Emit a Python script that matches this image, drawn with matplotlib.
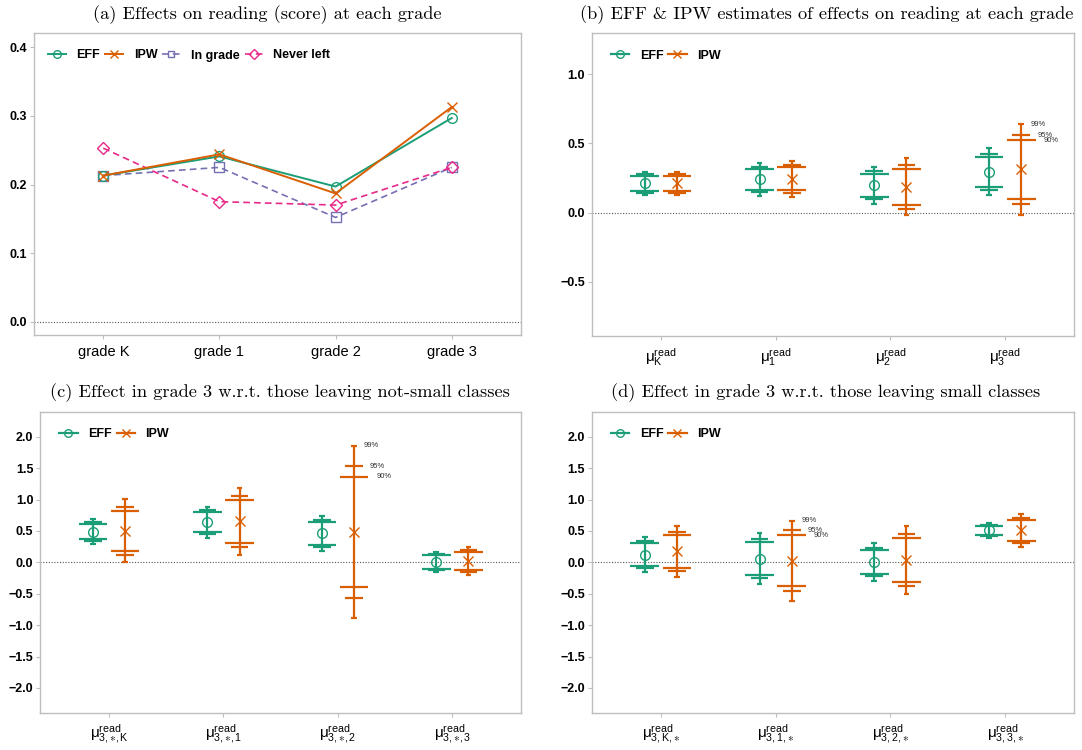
import matplotlib
matplotlib.use("Agg")
import matplotlib.pyplot as plt
from matplotlib.lines import Line2D

plt.rcParams['font.family'] = ['Liberation Sans', 'DejaVu Sans']
plt.rcParams['mathtext.fontset'] = 'custom'
plt.rcParams['mathtext.rm'] = 'Liberation Sans'
plt.rcParams['mathtext.it'] = 'Liberation Sans:italic'
plt.rcParams['mathtext.bf'] = 'Liberation Sans:bold'

# panel (a)
grades = ["grade K", "grade 1", "grade 2", "grade 3"]
a_eff = [0.213, 0.241, 0.197, 0.297]
a_ipw = [0.213, 0.244, 0.187, 0.313]
a_ingrade = [0.213, 0.225, 0.152, 0.225]
a_neverleft = [0.253, 0.175, 0.170, 0.225]

# panel (b)
b_labels = [r'$\mathrm{\mu^{read}_{K}}$', r'$\mathrm{\mu^{read}_{1}}$',
            r'$\mathrm{\mu^{read}_{2}}$', r'$\mathrm{\mu^{read}_{3}}$']
b_eff = [0.212, 0.241, 0.197, 0.296]
b_eff_hw90 = [0.056, 0.075, 0.085, 0.109]
b_eff_hw95 = [0.067, 0.090, 0.101, 0.131]
b_eff_hw99 = [0.085, 0.117, 0.132, 0.170]
b_ipw = [0.212, 0.244, 0.187, 0.312]
b_ipw_hw90 = [0.056, 0.083, 0.131, 0.212]
b_ipw_hw95 = [0.067, 0.099, 0.158, 0.248]
b_ipw_hw99 = [0.085, 0.130, 0.207, 0.328]

# panel (c)
c_labels = [r'$\mathrm{\mu^{read}_{3,∗,K}}$', r'$\mathrm{\mu^{read}_{3,∗,1}}$',
            r'$\mathrm{\mu^{read}_{3,∗,2}}$', r'$\mathrm{\mu^{read}_{3,∗,3}}$']
c_eff = [0.489, 0.639, 0.460, 0.005]
c_eff_hw90 = [0.122, 0.162, 0.179, 0.112]
c_eff_hw95 = [0.146, 0.194, 0.214, 0.133]
c_eff_hw99 = [0.196, 0.245, 0.279, 0.165]
c_ipw = [0.500, 0.653, 0.483, 0.024]
c_ipw_hw90 = [0.319, 0.340, 0.877, 0.146]
c_ipw_hw95 = [0.378, 0.405, 1.045, 0.175]
c_ipw_hw99 = [0.502, 0.532, 1.377, 0.226]

# panel (d)
d_labels = [r'$\mathrm{\mu^{read}_{3,K,∗}}$', r'$\mathrm{\mu^{read}_{3,1,∗}}$',
            r'$\mathrm{\mu^{read}_{3,2,∗}}$', r'$\mathrm{\mu^{read}_{3,3,∗}}$']
d_eff = [0.125, 0.061, 0.008, 0.509]
d_eff_hw90 = [0.179, 0.258, 0.188, 0.077]
d_eff_hw95 = [0.213, 0.307, 0.224, 0.092]
d_eff_hw99 = [0.285, 0.406, 0.300, 0.122]
d_ipw = [0.173, 0.026, 0.040, 0.508]
d_ipw_hw90 = [0.266, 0.407, 0.350, 0.170]
d_ipw_hw95 = [0.316, 0.489, 0.417, 0.203]
d_ipw_hw99 = [0.412, 0.640, 0.540, 0.264]

GREEN = '#1B9E77'
ORANGE = '#D95F02'
PURPLE = '#7570B3'
PINK = '#E7298A'
FRAME = '#BEBEBE'

W, H = 1082, 750
fig = plt.figure(figsize=(W / 100, H / 100), dpi=100)


def add_ax(l, t, r, b):
    ax = fig.add_axes([l / W, 1 - b / H, (r - l) / W, (b - t) / H])
    ax.px = (r - l, b - t)
    for s in ax.spines.values():
        s.set_color(FRAME)
        s.set_linewidth(1.0)
    ax.tick_params(axis='both', color=FRAME, length=3, width=0.8)
    ax.tick_params(axis='y', pad=2)
    ax.set_xlim(0.4, 4.6)
    ax.axhline(0, color='#555555', lw=0.8, ls=(0, (1, 1.5)), zorder=1)
    return ax


def bold_yticks(ax, ticks, fmt):
    ax.set_yticks(ticks)
    ax.set_yticklabels([fmt.format(t).replace('-', '\u2212') for t in ticks],
                       fontweight='bold', fontsize=9)


def legend(ax, handles, labels, dx):
    w, h = ax.px
    ax.legend(handles, labels, loc='upper left', ncol=len(handles),
              frameon=False, prop={'weight': 'bold', 'size': 9},
              handlelength=1.45, handletextpad=0.85, columnspacing=0.4,
              borderaxespad=0, borderpad=0.4,
              bbox_to_anchor=((dx - 5) / w, 1 - 11.5 / h))


def title(x, y, s):
    fig.text(x / W, 1 - y / H, s, family='cmr10', fontsize=13.2,
             ha='center', va='center')


def ci_panel(ax, labels, eff, eh90, eh95, eh99, ipw, ih90, ih95, ih99):
    pos = [1, 2, 3, 4]
    off = 0.14
    for est, h90, h95, h99, dx, col, mk in [
            (eff, eh90, eh95, eh99, -off, GREEN, 'o'),
            (ipw, ih90, ih95, ih99, off, ORANGE, 'x')]:
        for i, p in enumerate(pos):
            x = p + dx
            ax.vlines(x, est[i] - h99[i], est[i] + h99[i], color=col, lw=1.6, zorder=3)
            for hw, cw in [(h90[i], 0.125), (h95[i], 0.077), (h99[i], 0.025)]:
                ax.hlines([est[i] - hw, est[i] + hw], x - cw, x + cw,
                          color=col, lw=1.6, zorder=3)
            ax.plot(x, est[i], marker=mk, ms=7, mfc='none', mec=col,
                    mew=1.0, ls='none', zorder=4)
    # annotate the widest IPW interval
    k = max(range(4), key=lambda j: ih99[j])
    x = pos[k] + off
    for hw, txt, dxp in [(ih99[k], '99%', 7), (ih95[k], '95%', 11.5), (ih90[k], '90%', 16)]:
        ax.annotate(txt, (x, ipw[k] + hw), xytext=(dxp, 0), textcoords='offset points',
                    fontsize=5.5, color='#333333', ha='left', va='center')
    ax.set_xticks(pos)
    ax.set_xticklabels(labels, fontsize=11)
    ax.tick_params(axis='x', pad=4)
    h = [Line2D([], [], color=GREEN, marker='o', mfc='none', ms=5.5, lw=1.6),
         Line2D([], [], color=ORANGE, marker='x', ms=5.5, lw=1.6)]
    legend(ax, h, ['EFF', 'IPW'], 19)


# (a)
ax = add_ax(33.6, 33, 521.4, 335)
x = [1, 2, 3, 4]
ax.plot(x, a_eff, color=GREEN, marker='o', mfc='none', ms=7, lw=1.4, zorder=4)
ax.plot(x, a_ipw, color=ORANGE, marker='x', ms=7, lw=1.4, zorder=4)
ax.plot(x, a_ingrade, color=PURPLE, marker='s', mfc='none', ms=6.5, lw=1.2,
        ls=(0, (4, 2.5)), zorder=3)
ax.plot(x, a_neverleft, color=PINK, marker='D', mfc='none', ms=6.5, lw=1.2,
        ls=(0, (4, 2.5)), zorder=3)
ax.set_ylim(-0.0195, 0.421)
bold_yticks(ax, [0.0, 0.1, 0.2, 0.3, 0.4], '{:.1f}')
ax.set_xticks(x)
ax.set_xticklabels(grades, fontsize=10.5)
ax.tick_params(axis='x', pad=4)
h = [Line2D([], [], color=GREEN, marker='o', mfc='none', ms=5.5, lw=1.4),
     Line2D([], [], color=ORANGE, marker='x', ms=5.5, lw=1.4),
     Line2D([], [], color=PURPLE, marker='s', mfc='none', ms=5, lw=1.2, ls=(0, (4, 2.5))),
     Line2D([], [], color=PINK, marker='D', mfc='none', ms=5, lw=1.2, ls=(0, (4, 2.5)))]
legend(ax, h, ['EFF', 'IPW', 'In grade', 'Never left'], 14)
title(267, 15, '(a) Effects on reading (score) at each grade')

# (b)
ax = add_ax(592, 33.3, 1074, 336)
ci_panel(ax, b_labels, b_eff, b_eff_hw90, b_eff_hw95, b_eff_hw99,
         b_ipw, b_ipw_hw90, b_ipw_hw95, b_ipw_hw99)
ax.set_ylim(-0.891, 1.296)
bold_yticks(ax, [-0.5, 0.0, 0.5, 1.0], '{:.1f}')
title(827, 15, '(b) EFF & IPW estimates of effects on reading at each grade')

# (c)
ax = add_ax(40.4, 411.7, 521, 713)
ci_panel(ax, c_labels, c_eff, c_eff_hw90, c_eff_hw95, c_eff_hw99,
         c_ipw, c_ipw_hw90, c_ipw_hw95, c_ipw_hw99)
ax.set_ylim(-2.4, 2.4)
bold_yticks(ax, [-2.0, -1.5, -1.0, -0.5, 0.0, 0.5, 1.0, 1.5, 2.0], '{:.1f}')
title(280, 393, '(c) Effect in grade 3 w.r.t. those leaving not-small classes')

# (d)
ax = add_ax(592, 411.7, 1074, 713)
ci_panel(ax, d_labels, d_eff, d_eff_hw90, d_eff_hw95, d_eff_hw99,
         d_ipw, d_ipw_hw90, d_ipw_hw95, d_ipw_hw99)
ax.set_ylim(-2.4, 2.4)
bold_yticks(ax, [-2.0, -1.5, -1.0, -0.5, 0.0, 0.5, 1.0, 1.5, 2.0], '{:.1f}')
title(826, 393, '(d) Effect in grade 3 w.r.t. those leaving small classes')

fig.savefig('out.png', dpi=100)
